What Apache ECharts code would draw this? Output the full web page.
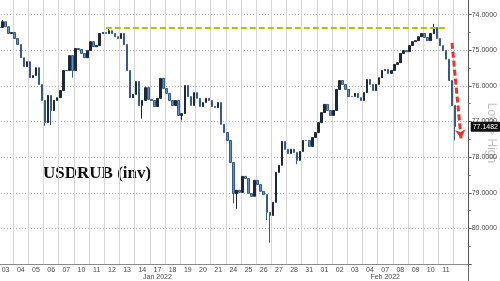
<!DOCTYPE html>
<html>
<head>
<meta charset="utf-8">
<script src="https://cdn.jsdelivr.net/npm/echarts@6/dist/echarts.min.js"></script>
<style>
  html, body { margin: 0; padding: 0; background: #ffffff; overflow: hidden; width: 500px; height: 281px; }
  #wrap { position: relative; width: 500px; height: 281px; overflow: hidden; }
  #chart { position: absolute; left: -2px; top: -21px; width: 502px; height: 302px; }
</style>
</head>
<body>
<div id="wrap"><div id="chart"></div></div>
<script>
// ---- data ----
const dayKeys = ['Jan 03','Jan 04','Jan 05','Jan 06','Jan 07','Jan 10','Jan 11','Jan 12','Jan 13','Jan 14',
  'Jan 17','Jan 18','Jan 19','Jan 20','Jan 21','Jan 24','Jan 25','Jan 26','Jan 27','Jan 28','Jan 31',
  'Feb 01','Feb 02','Feb 03','Feb 04','Feb 07','Feb 08','Feb 09','Feb 10','Feb 11','Feb 14'];
const dayTicks = ['03','04','05','06','07','10','11','12','13','14','17','18','19','20','21','24','25','26','27','28','31',
  '01','02','03','04','07','08','09','10','11',''];
const monthLabels = { 'Jan 17': 'Jan 2022', 'Feb 07': 'Feb 2022' };
const monthStartKey = 'Feb 01';
const slotsPerDay = 5;
// USDRUB closes, five intraday slots per session (axis is inverted)
const closes = [
  74.36,74.20,74.34,74.53,74.50,74.67,74.84,75.21,75.46,75.32,
  75.77,75.71,75.49,75.96,76.41,77.03,76.27,76.69,76.41,76.33,
  76.13,75.57,75.57,75.15,75.57,74.95,74.98,75.09,75.21,75.01,
  74.76,74.90,74.87,74.53,74.50,74.53,74.45,74.53,74.62,74.67,
  74.53,74.84,75.57,76.33,76.24,75.88,76.55,76.41,76.05,76.38,
  76.41,76.58,76.35,75.79,76.07,76.21,76.41,76.55,76.41,76.83,
  76.78,75.99,76.30,76.55,76.19,76.35,76.58,76.47,76.35,76.41,
  76.58,76.61,76.47,77.08,77.31,77.53,78.15,79.02,78.93,78.99,
  78.54,78.60,79.02,79.10,78.65,78.77,78.96,79.05,79.55,79.64,
  79.27,78.43,78.23,77.56,77.78,77.90,77.78,77.87,78.09,77.84,
  77.53,77.53,77.70,77.45,77.31,77.03,76.75,76.52,76.69,76.83,
  76.69,76.10,75.85,75.96,76.10,76.30,76.30,76.21,76.33,76.41,
  76.19,75.82,75.96,76.13,75.96,75.77,75.57,75.54,75.65,75.57,
  75.40,75.35,75.09,75.01,75.04,74.87,74.76,74.73,74.62,74.53,
  74.64,74.73,74.53,74.36,74.67,74.87,75.01,75.25,75.85,76.55,
  77.1482
];
// intraday wick extremes [slot index, value]
const wickExtremes = [[1,74.15],[15,77.12],[17,77.10],[24,75.77],[36,74.38],[47,76.92],[60,76.97],
  [77,79.30],[78,79.45],[88,79.77],[89,80.40],[98,78.20],[143,74.26],[150,77.53]];
const resistanceLevel = 74.36;
const resistanceFrom = 35, resistanceTo = 147;
const arrowFrom = [149, 74.79], arrowTo = [152, 77.48];
const yTicks = { min: 73, max: 81, step: 1 };
const title = 'USDRUB (inv)';
const sideNote = 'Low > High';

// ---- build ----
const slots = dayKeys.flatMap(d => Array.from({length: slotsPerDay}, (_, k) => d + '#' + k));
const extremeMap = new Map(wickExtremes);
const candles = closes.map((c, i) => {
  const o = i === 0 ? c : closes[i - 1];
  const vals = [o, c];
  if (extremeMap.has(i)) vals.push(extremeMap.get(i));
  return [o, c, Math.min(...vals), Math.max(...vals)];
});
const lastClose = closes[closes.length - 1];
const labelFont = 'Liberation Sans';

const chart = echarts.init(document.getElementById('chart'), null, { renderer: 'canvas' });
chart.setOption({
  animation: false,
  backgroundColor: '#ffffff',
  grid: { left: 0, right: 29, top: 0, bottom: 17, containLabel: false },
  xAxis: [
    { type: 'category', data: slots, show: false, boundaryGap: true, position: 'bottom' },
    {
      type: 'category', data: dayKeys, position: 'bottom', boundaryGap: true,
      axisLine: { show: true, lineStyle: { color: '#8a8a8a', width: 1 } },
      axisTick: { show: false },
      splitLine: { show: true, lineStyle: { color: '#d6d6d6', width: 1, type: 'solid' } },
      axisLabel: { color: '#4a4a4a', fontSize: 7, fontFamily: labelFont, margin: 3, interval: 0,
        formatter: (v, i) => dayTicks[i] }
    },
    {
      type: 'category', data: dayKeys, position: 'bottom', boundaryGap: true,
      axisLine: { show: false },
      axisTick: { show: true, length: 17, interval: (i, v) => v === monthStartKey,
        lineStyle: { color: '#6a6a6a', width: 1 } },
      splitLine: { show: true, interval: (i, v) => v === monthStartKey,
        lineStyle: { color: '#9a9a9a', width: 1 } },
      axisLabel: { color: '#4a4a4a', fontSize: 7, fontFamily: labelFont, margin: 10, interval: 0,
        formatter: v => monthLabels[v] || '' }
    }
  ],
  yAxis: {
    type: 'value', position: 'right', inverse: true,
    min: yTicks.min, max: yTicks.max, interval: yTicks.step,
    axisLine: { show: true, lineStyle: { color: '#555', width: 1 } },
    axisTick: { show: true, length: 3, lineStyle: { color: '#555' } },
    minorTick: { show: true, splitNumber: 2, length: 2, lineStyle: { color: '#777' } },
    splitLine: { show: true, lineStyle: { color: '#b0b0b0', width: 1, type: [1, 2] } },
    axisLabel: { color: '#4a4a4a', fontSize: 7, fontFamily: labelFont, margin: 3,
      showMinLabel: false, showMaxLabel: false,
      formatter: v => v.toFixed(4) }
  },
  series: [{
    type: 'candlestick',
    xAxisIndex: 0,
    data: candles,
    barWidth: 2,
    itemStyle: { color: '#5f8fcf', color0: '#1e2935', borderColor: '#375b88', borderColor0: '#1e2935', borderWidth: 1 },
    markLine: {
      silent: true,
      symbol: ['none', 'none'],
      precision: 4,
      animation: false,
      data: [
        [
          { coord: [resistanceFrom, resistanceLevel],
            lineStyle: { color: '#b4c300', width: 2, type: [6, 3] }, label: { show: false } },
          { coord: [resistanceTo, resistanceLevel] }
        ],
        [
          { coord: arrowFrom, symbol: 'none',
            lineStyle: { color: '#e5342b', width: 3, type: [6, 3] }, label: { show: false } },
          { coord: arrowTo, symbol: 'arrow', symbolSize: [8, 9] }
        ],
        {
          yAxis: lastClose,
          lineStyle: { color: 'rgba(0,0,0,0)', width: 0 },
          label: { show: true, position: 'end', distance: 2,
            formatter: () => lastClose.toFixed(4),
            backgroundColor: '#111111', color: '#ffffff', fontSize: 7, fontFamily: labelFont,
            padding: [2, 2, 1, 2], borderRadius: 1 }
        }
      ]
    }
  }],
  graphic: [
    { type: 'text', left: 45, top: 186,
      style: { text: title, font: 'bold 17px "Liberation Serif"', fill: '#111111' } },
    { type: 'text', x: 493, y: 154, rotation: -Math.PI / 2, z: 0,
      style: { text: sideNote, font: '12px "Liberation Sans"', fill: '#c2c2c2',
        textAlign: 'center', textVerticalAlign: 'middle' } }
  ]
});
</script>
</body>
</html>
